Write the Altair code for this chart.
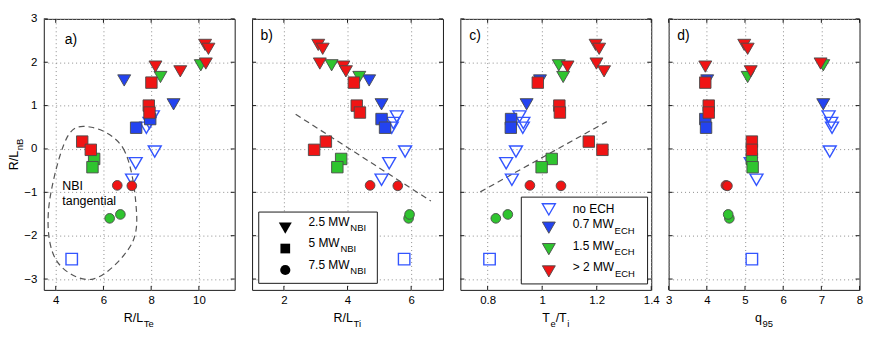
import altair as alt
import pandas as pd

FONT = "Liberation Sans"
RED, GREEN, BLUE, OPEN = "#f01414", "#2fc42f", "#2343f0", "#3355ff"
EDGE, GRID, FRAME = "#4a4a4a", "#8c8c8c", "#1a1a1a"

# ---- data (one entry per discharge) ----
nbi_mw = ["2.5"] * 15 + ["5"] * 10 + ["7.5"] * 4
ech_mw = (["none"] * 6 + ["0.7"] * 2 + ["1.5"] * 2 + [">2"] * 5
          + ["none", "0.7", "0.7", "1.5", "1.5", ">2", ">2", ">2", ">2", ">2"]
          + ["1.5", "1.5", ">2", ">2"])
r_lnb = [0.75, 0.60, 0.49, -0.06, -0.33, -0.71, 1.58, 1.03, 1.93, 1.66,
         2.40, 2.31, 1.97, 1.90, 1.79,
         -2.54, 0.69, 0.49, -0.23, -0.42, 1.53, 1.00, 0.84, 0.17, -0.02,
         -1.60, -1.51, -0.84, -0.85]
r_lte = [8.07, 7.93, 7.80, 8.15, 7.35, 7.20, 6.87, 8.94, 10.08, 8.39,
         10.26, 10.40, 10.29, 8.18, 9.22,
         4.67, 7.96, 7.37, 5.61, 5.54, 8.01, 7.90, 7.93, 5.11, 5.47,
         6.26, 6.71, 6.58, 7.19]
r_lti = [5.55, 5.44, 5.39, 5.81, 5.31, 5.07, 4.68, 5.07, 3.50, 4.37,
         3.08, 3.22, 3.13, 3.87, 3.95,
         5.78, 5.07, 5.18, 3.80, 3.68, 4.20, 4.29, 4.39, 3.32, 2.95,
         5.92, 5.95, 4.71, 5.58]
te_ti = [0.917, 0.931, 0.929, 0.904, 0.868, 0.889, 0.992, 0.943, 1.061, 1.077,
         1.196, 1.209, 1.199, 1.093, 1.227,
         0.807, 0.886, 0.885, 1.035, 0.998, 0.984, 1.063, 1.065, 1.171, 1.221,
         0.830, 0.874, 0.955, 1.069]
q_95 = [7.19, 7.26, 7.28, 7.22, 5.15, 5.30, 4.01, 7.05, 7.05, 5.07,
        4.98, 5.07, 6.98, 3.96, 5.15,
        5.18, 3.96, 3.98, 5.18, 5.20, 3.96, 4.05, 4.05, 5.18, 5.18,
        4.59, 4.56, 4.50, 4.54]

# annotation curves (data units)
ell_x = [5.50, 6.82, 7.35, 7.17, 5.57, 4.04, 3.70, 4.46]
ell_y = [0.50, 0.02, -1.20, -2.20, -3.00, -2.58, -1.40, 0.25]
fitb_x = [2.37, 6.62]
fitb_y = [0.80, -1.20]
fitc_x = [0.773, 1.237]
fitc_y = [-0.99, 0.63]

y_ticks = [-3, -2, -1, 0, 1, 2, 3]

df = pd.DataFrame({"nbi": nbi_mw, "ech": ech_mw, "y": r_lnb, "rlte": r_lte,
                   "rlti": r_lti, "teti": te_ti, "q95": q_95})
df_open = df[df.ech == "none"]
df_fill = df[df.ech != "none"]
ONE = pd.DataFrame({"k": [0]})

W, H = 192, 272.6

CW = {'0': 556, '1': 556, '2': 556, '3': 556, '4': 556, '5': 556, '6': 556, '7': 556,
      '8': 556, '9': 556, '.': 278, ' ': 278, 'M': 833, 'W': 944, 'E': 667, 'C': 722,
      'H': 722, 'N': 722, 'B': 667, 'I': 278, 'n': 556, 'o': 556, '>': 584, 'R': 722,
      '/': 278, 'L': 556, 'T': 611, 'e': 556, 'i': 222, 'q': 556}


def tw(s, size):
    return sum(CW.get(c, 556) for c in s) / 1000 * size


def label(s, x, y, size=12, align="left", angle=0, baseline="alphabetic"):
    return alt.Chart(ONE).mark_text(
        text=s, font=FONT, fontSize=size, align=align, baseline=baseline,
        angle=angle, color="black").encode(x=alt.value(x), y=alt.value(y))


def composite(parts, cx, base):
    """parts: list of (text, size, is_sub); centred on cx."""
    total = sum(tw(t, s) + (0.6 if sub else 0) for t, s, sub in parts)
    x = cx - total / 2
    out = []
    for t, s, sub in parts:
        if sub:
            x += 0.6
        out.append(label(t, x, base + (4.8 if sub else 0), size=s))
        x += tw(t, s)
    return out


def xenc(field, dom, ticks, fmt):
    return alt.X(f"{field}:Q", scale=alt.Scale(domain=dom, nice=False, zero=False),
                 axis=alt.Axis(values=ticks, format=fmt, title=None, grid=True,
                               gridColor=GRID, gridDash=[1, 3], gridWidth=1,
                               ticks=False, tickSize=0, domain=False, labelFlush=False,
                               labelOverlap=False, labelPadding=5, labelFont=FONT,
                               labelFontSize=11.5, labelColor="black"))


def yenc(show):
    return alt.Y("y:Q", scale=alt.Scale(domain=[-3.25, 3], nice=False, zero=False),
                 axis=alt.Axis(values=y_ticks, title=None, grid=True, gridColor=GRID,
                               gridDash=[1, 3], gridWidth=1, ticks=False, tickSize=0,
                               domain=False, labels=show, labelFlush=False,
                               labelOverlap=False, labelPadding=7, labelFont=FONT,
                               labelFontSize=11.5, labelColor="black"))


SHAPE = alt.Scale(domain=["2.5", "5", "7.5"], range=["triangle-down", "square", "circle"])
SIZE = alt.Scale(domain=["2.5", "5", "7.5"], range=[170, 95, 105])


def panel(field, dom, ticks, fmt, show_y, letter, letter_xy, extra_back, extra_front, title_parts):
    X = xenc(field, dom, ticks, fmt)
    Y = yenc(show_y)
    layers = []
    layers += extra_back(X, Y)
    layers.append(alt.Chart(df_open).mark_point(
        filled=False, color=OPEN, strokeWidth=1.4, opacity=1).encode(
        x=X, y=Y, shape=alt.Shape("nbi:N", scale=SHAPE, legend=None),
        size=alt.Size("nbi:O", scale=SIZE, legend=None)))
    layers.append(alt.Chart(df_fill).mark_point(
        filled=True, stroke=EDGE, strokeWidth=0.9, opacity=1, fillOpacity=1).encode(
        x=X, y=Y, shape=alt.Shape("nbi:N", scale=SHAPE, legend=None),
        size=alt.Size("nbi:O", scale=SIZE, legend=None),
        fill=alt.Fill("ech:N", scale=alt.Scale(domain=["0.7", "1.5", ">2"],
                                               range=[BLUE, GREEN, RED]), legend=None)))
    # inward ticks on all four sides
    xt = pd.DataFrame({field: ticks})
    yt = pd.DataFrame({"y": y_ticks})
    layers.append(alt.Chart(xt).mark_rule(color=FRAME, strokeWidth=1).encode(
        x=X, y=alt.value(H), y2=alt.value(H - 4)))
    layers.append(alt.Chart(xt).mark_rule(color=FRAME, strokeWidth=1).encode(
        x=X, y=alt.value(0), y2=alt.value(4)))
    layers.append(alt.Chart(yt).mark_rule(color=FRAME, strokeWidth=1).encode(
        y=Y, x=alt.value(0), x2=alt.value(4)))
    layers.append(alt.Chart(yt).mark_rule(color=FRAME, strokeWidth=1).encode(
        y=Y, x=alt.value(W - 4), x2=alt.value(W)))
    layers += extra_front(X, Y)
    layers.append(label(letter, letter_xy[0], letter_xy[1], size=14, baseline="middle"))
    layers += composite(title_parts, W / 2, 305)
    return alt.layer(*layers).properties(width=W, height=H)


# ---- panel a ----
def a_back(X, Y):
    ell = pd.DataFrame({"rlte": ell_x, "y": ell_y, "i": list(range(len(ell_x)))})
    return [alt.Chart(ell).mark_line(interpolate="cardinal-closed", color="#555555",
                                     strokeWidth=1.2, strokeDash=[6, 4]).encode(
        x=X, y=Y, order=alt.Order("i:Q"))]


def a_front(X, Y):
    out = [label("NBI", 18.6, 172.6, size=12.5), label("tangential", 18.6, 187.5, size=12.5)]
    # rotated y title R/L_nB
    main, sub = "R/L", "nB"
    tot = tw(main, 12.5) + 0.6 + tw(sub, 9.5)
    y0 = H / 2 + tot / 2
    out.append(label(main, -25.5, y0, size=12.5, angle=270))
    out.append(label(sub, -25.5 + 4.8, y0 - tw(main, 12.5) - 0.6, size=9.5, angle=270))
    return out


pa = panel("rlte", [3.5, 11.5], [4, 6, 8, 10], "d", True, "a)", (21, 21),
           a_back, a_front, [("R/L", 12.5, False), ("Te", 9.5, True)])


# ---- panel b ----
def b_back(X, Y):
    fb = pd.DataFrame({"rlti": fitb_x, "y": fitb_y})
    return [alt.Chart(fb).mark_line(color="#555555", strokeWidth=1.2, strokeDash=[6, 4]).encode(x=X, y=Y)]


def b_front(X, Y):
    out = [alt.Chart(ONE).mark_rect(fill="white", stroke=FRAME, strokeWidth=1).encode(
        x=alt.value(6.7), x2=alt.value(126), y=alt.value(194.3), y2=alt.value(266))]
    rows = [("triangle-down", 170, 210.5, "2.5 MW", 208.3),
            ("square", 95, 231, "5 MW", 229),
            ("circle", 105, 252.6, "7.5 MW", 251.6)]
    for shp, sz, my, txt, by in rows:
        out.append(alt.Chart(ONE).mark_point(shape=shp, size=sz, filled=True, color="black",
                                             opacity=1).encode(x=alt.value(33.4), y=alt.value(my)))
        out.append(label(txt, 56.7, by, size=12))
        out.append(label("NBI", 56.7 + tw(txt, 12) + 0.8, by + 5.5, size=9.5))
    return out


pb = panel("rlti", [1, 7], [2, 4, 6], "d", False, "b)", (8.4, 17),
           b_back, b_front, [("R/L", 12.5, False), ("Ti", 9.5, True)])


# ---- panel c ----
def c_back(X, Y):
    fc = pd.DataFrame({"teti": fitc_x, "y": fitc_y})
    return [alt.Chart(fc).mark_line(color="#555555", strokeWidth=1.2, strokeDash=[6, 4]).encode(x=X, y=Y)]


def c_front(X, Y):
    out = [alt.Chart(ONE).mark_rect(fill="white", stroke=FRAME, strokeWidth=1).encode(
        x=alt.value(61.3), x2=alt.value(188.3), y=alt.value(179.3), y2=alt.value(266.6))]
    out.append(alt.Chart(ONE).mark_point(shape="triangle-down", size=170, filled=False, color=OPEN,
                                         strokeWidth=1.4, opacity=1).encode(
        x=alt.value(89), y=alt.value(191.6)))
    out.append(label("no ECH", 113, 195, size=12))
    rows = [(BLUE, 210, "0.7 MW", 210.5), (GREEN, 231.6, "1.5 MW", 232),
            (RED, 254, "> 2 MW", 254)]
    for col, my, txt, by in rows:
        out.append(alt.Chart(ONE).mark_point(shape="triangle-down", size=170, filled=True, fill=col,
                                             stroke=EDGE, strokeWidth=0.9, opacity=1).encode(
            x=alt.value(89), y=alt.value(my)))
        out.append(label(txt, 113, by, size=12))
        out.append(label("ECH", 113 + tw(txt, 12) + 0.8, by + 5.5, size=9.5))
    return out


pc = panel("teti", [0.7, 1.4], [0.8, 1.0, 1.2, 1.4], "~g", False, "c)", (9, 17),
           c_back, c_front, [("T", 12.5, False), ("e", 9.5, True), ("/T", 12.5, False), ("i", 9.5, True)])

# ---- panel d ----
pd_ = panel("q95", [3, 8], [3, 4, 5, 6, 7, 8], "d", False, "d)", (8.7, 17),
            lambda X, Y: [], lambda X, Y: [], [("q", 12.5, False), ("95", 9.5, True)])

chart = alt.hconcat(pa, pb, pc, pd_, spacing=17.5, bounds="flush").properties(
    padding={"left": 0, "top": 3, "right": 0, "bottom": 0}
).configure_view(stroke=FRAME, strokeWidth=1)

chart.save("out.html", embed_options={"renderer": "svg", "actions": False})
